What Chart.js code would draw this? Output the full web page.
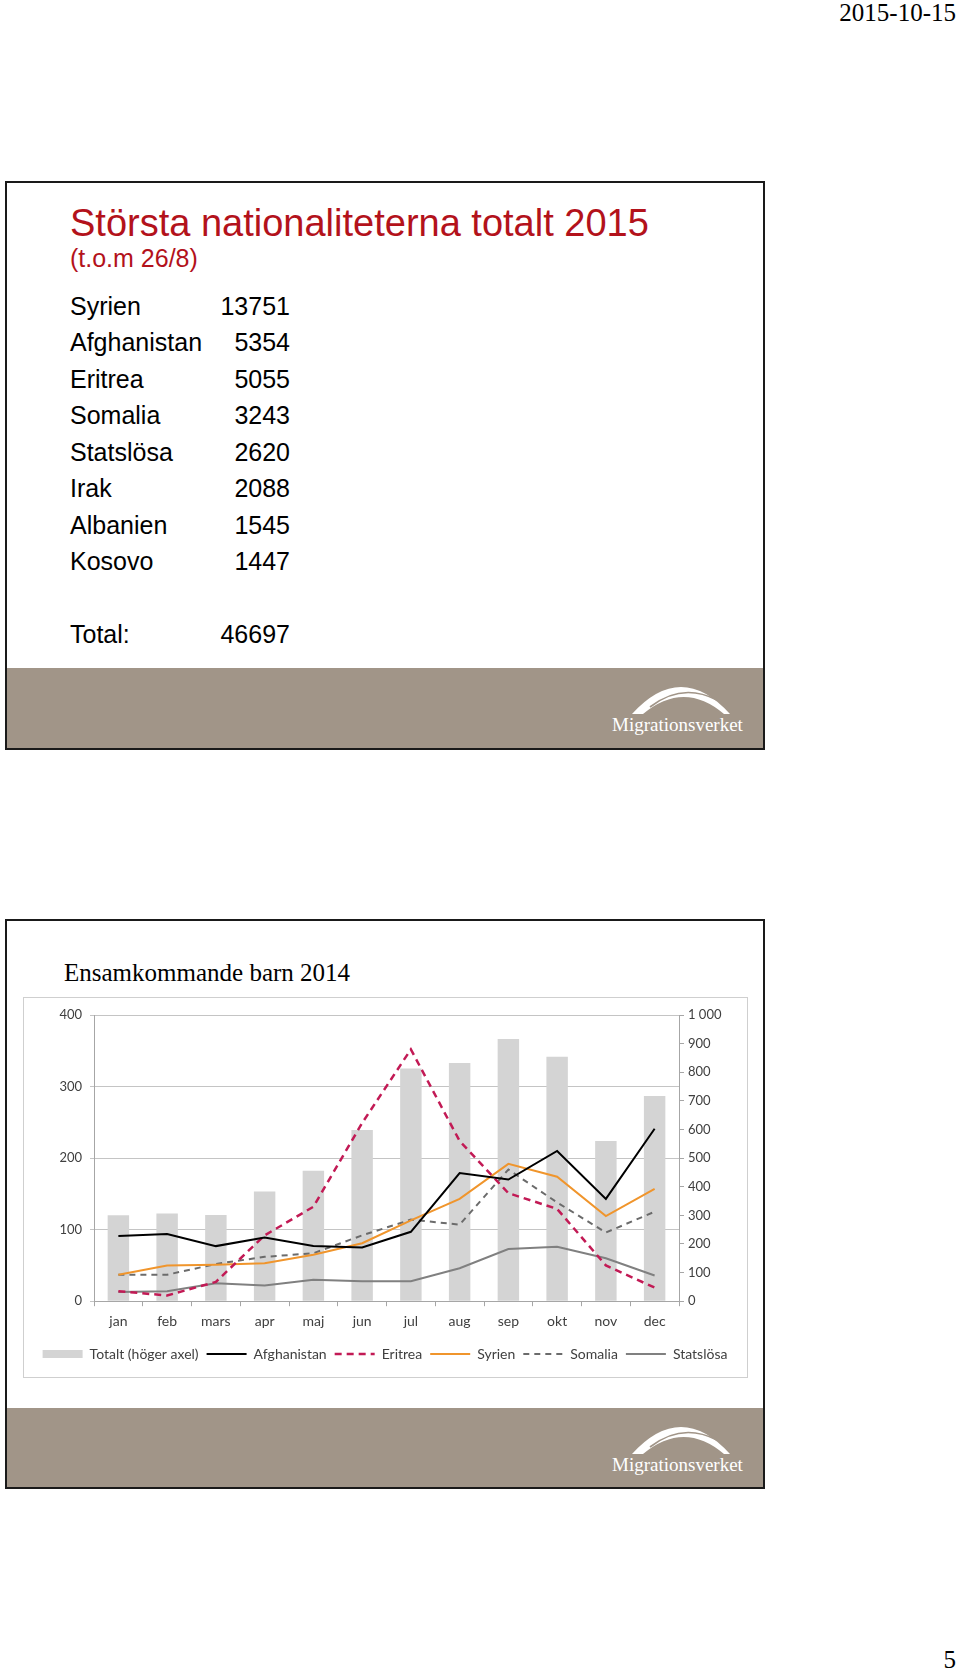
<!DOCTYPE html>
<html>
<head>
<meta charset="utf-8">
<script src="https://cdn.jsdelivr.net/npm/chart.js@4.4.1/dist/chart.umd.min.js"></script>
<style>
  body { margin: 0; background: #fff; }
  #page { position: relative; width: 960px; height: 1672px; overflow: hidden; }
  .abs { position: absolute; white-space: nowrap; }
  .serif { font-family: "Liberation Serif", "Times New Roman", serif; color: #000; }
  .sans { font-family: "Liberation Sans", Arial, sans-serif; }
  .slide { position: absolute; box-sizing: border-box; border: 2px solid #1a1a1a; }
  .band { position: absolute; left: 0; right: 0; background: #a19588; }
  .logotext { position: absolute; font-family: "Liberation Serif", serif; font-size: 19px; line-height: 19px; color: #fff; }
  .logo { position: absolute; }
</style>
</head>
<body>
<div id="page">
  <div class="abs serif" style="right:4px; top:2px; font-size:25px; line-height:22px;">2015-10-15</div>

  <!-- slide 1 -->
  <div class="slide" style="left:5px; top:181px; width:760px; height:569px;">
    <div class="band" style="top:485px; bottom:0;"></div>
    <svg class="logo" style="left:600px; top:497px;" width="150" height="40" viewBox="0 0 150 40">
      <path d="M25,34 Q74,-20 123,34 L117,34 Q77,0 36,34 Z" fill="#fff"/>
      <path d="M43,27 Q75,2 110,20" fill="none" stroke="#a19588" stroke-width="1.6"/>
    </svg>
    <div class="logotext" style="left:605px; top:532px;">Migrationsverket</div>
  </div>
  <div class="abs sans" style="left:70px; top:204px; font-size:38px; line-height:38px; color:#b3121b;">Största nationaliteterna totalt 2015</div>
  <div class="abs sans" style="left:70px; top:246px; font-size:25px; line-height:25px; color:#b3121b;">(t.o.m 26/8)</div>
  <div id="table"></div>

  <!-- slide 2 -->
  <div class="slide" style="left:5px; top:919px; width:760px; height:570px;">
    <div class="band" style="top:487px; bottom:0;"></div>
    <svg class="logo" style="left:600px; top:499px;" width="150" height="40" viewBox="0 0 150 40">
      <path d="M25,34 Q74,-20 123,34 L117,34 Q77,0 36,34 Z" fill="#fff"/>
      <path d="M43,27 Q75,2 110,20" fill="none" stroke="#a19588" stroke-width="1.6"/>
    </svg>
    <div class="logotext" style="left:605px; top:534px;">Migrationsverket</div>
  </div>
  <div class="abs serif" style="left:64px; top:960px; font-size:25px; line-height:25px;">Ensamkommande barn 2014</div>

  <div class="abs" style="left:23px; top:997px; width:723px; height:379px; border:1px solid #cfcfcf; background:#fff;"></div>
  <div class="abs" style="left:24px; top:998px; width:722px; height:379px;">
    <canvas id="chart" width="722" height="379"></canvas>
  </div>

  <div class="abs serif" style="right:4px; top:1649px; font-size:25px; line-height:22px;">5</div>
</div>

<script>
// slide 1: table
const countries = ['Syrien', 'Afghanistan', 'Eritrea', 'Somalia', 'Statslösa', 'Irak', 'Albanien', 'Kosovo'];
const counts = ['13751', '5354', '5055', '3243', '2620', '2088', '1545', '1447'];
const totalLabel = 'Total:';
const totalValue = '46697';

// slide 2: chart
const months = ['jan', 'feb', 'mars', 'apr', 'maj', 'jun', 'jul', 'aug', 'sep', 'okt', 'nov', 'dec'];
const totalt = [300, 306, 301, 383, 456, 598, 813, 832, 916, 854, 560, 717];
const afghanistan = [91, 94, 77, 89, 77, 75, 97, 179, 170, 210, 143, 241];
const eritrea = [14, 8, 27, 92, 132, 249, 352, 224, 151, 129, 50, 19];
const syrien = [37, 50, 51, 53, 65, 81, 113, 143, 192, 174, 119, 157];
const somalia = [37, 37, 52, 62, 67, 92, 114, 107, 184, 138, 96, 125];
const statslosa = [13, 14, 25, 22, 30, 28, 28, 46, 73, 76, 60, 36];

const table = document.getElementById('table');
function row(label, value, top) {
    const l = document.createElement('div');
    l.className = 'abs sans';
    l.style.cssText = 'left:70px; top:' + top + 'px; font-size:25px; line-height:25px; color:#000;';
    l.textContent = label;
    const v = document.createElement('div');
    v.className = 'abs sans';
    v.style.cssText = 'right:670px; top:' + top + 'px; font-size:25px; line-height:25px; color:#000; text-align:right;';
    v.textContent = value;
    table.appendChild(l);
    table.appendChild(v);
}
countries.forEach((c, i) => row(c, counts[i], 293.5 + i * 36.5));
row(totalLabel, totalValue, 621.5);

const tickFont = { family: 'Lato', size: 13 };
const gridGray = '#c4c4c4';
const axisGray = '#a6a6a6';

function lineSet(label, data, color, dash, width) {
    return {
        type: 'line',
        label: label,
        data: data,
        borderColor: color,
        backgroundColor: color,
        borderWidth: width,
        borderDash: dash,
        pointRadius: 0,
        pointStyle: 'line',
        tension: 0,
        fill: false,
        order: 0,
        yAxisID: 'y'
    };
}

// legend swatches: take dash and width from the line itself, not from its points
function legendLabels(chart) {
    const items = Chart.defaults.plugins.legend.labels.generateLabels(chart);
    items.forEach(it => {
        const ds = chart.data.datasets[it.datasetIndex];
        if (ds.type === 'line') {
            it.lineDash = ds.borderDash;
            it.lineWidth = ds.borderWidth;
            it.strokeStyle = ds.borderColor;
        }
    });
    return items;
}

const ctx = document.getElementById('chart').getContext('2d');
new Chart(ctx, {
    data: {
        labels: months,
        datasets: [
            {
                type: 'bar',
                label: 'Totalt (höger axel)',
                data: totalt,
                backgroundColor: '#d4d4d4',
                borderWidth: 0,
                barPercentage: 0.44,
                categoryPercentage: 1,
                pointStyle: 'rect',
                order: 1,
                yAxisID: 'y1'
            },
            lineSet('Afghanistan', afghanistan, '#000000', [], 2),
            lineSet('Eritrea', eritrea, '#c21a55', [7, 5], 2.5),
            lineSet('Syrien', syrien, '#f0952c', [], 2),
            lineSet('Somalia', somalia, '#6b6b6b', [6, 5], 2),
            lineSet('Statslösa', statslosa, '#808080', [], 2)
        ]
    },
    options: {
        responsive: false,
        animation: false,
        devicePixelRatio: 1,
        events: [],
        layout: { padding: { top: 17, bottom: 6, left: 0, right: 0 } },
        plugins: {
            tooltip: { enabled: false },
            legend: {
                position: 'bottom',
                labels: {
                    usePointStyle: true,
                    pointStyleWidth: 40,
                    boxHeight: 8,
                    padding: 8,
                    color: '#404040',
                    font: { family: 'Lato', size: 14 },
                    generateLabels: legendLabels,
                    sort: (a, b) => a.datasetIndex - b.datasetIndex
                }
            }
        },
        scales: {
            x: {
                offset: true,
                grid: { display: true, drawOnChartArea: false, tickLength: 5, color: axisGray },
                border: { color: axisGray },
                ticks: { font: { family: 'Lato', size: 14 }, color: '#404040', padding: 7 },
                afterFit: (s) => { s.height += 2; }
            },
            y: {
                position: 'left',
                min: 0,
                max: 400,
                ticks: { stepSize: 100, font: tickFont, color: '#404040', padding: 8 },
                grid: { color: gridGray, tickLength: 4 },
                border: { color: axisGray },
                afterFit: (s) => { s.width = 70; }
            },
            y1: {
                position: 'right',
                min: 0,
                max: 1000,
                ticks: {
                    stepSize: 100,
                    font: tickFont,
                    color: '#404040',
                    padding: 4,
                    callback: (v) => v >= 1000 ? String(v).replace(/(\d)(\d{3})$/, '$1 $2') : v
                },
                grid: { drawOnChartArea: false, tickLength: 5, color: axisGray },
                border: { color: axisGray },
                afterFit: (s) => { s.width = 67; }
            }
        }
    }
});
</script>
</body>
</html>
